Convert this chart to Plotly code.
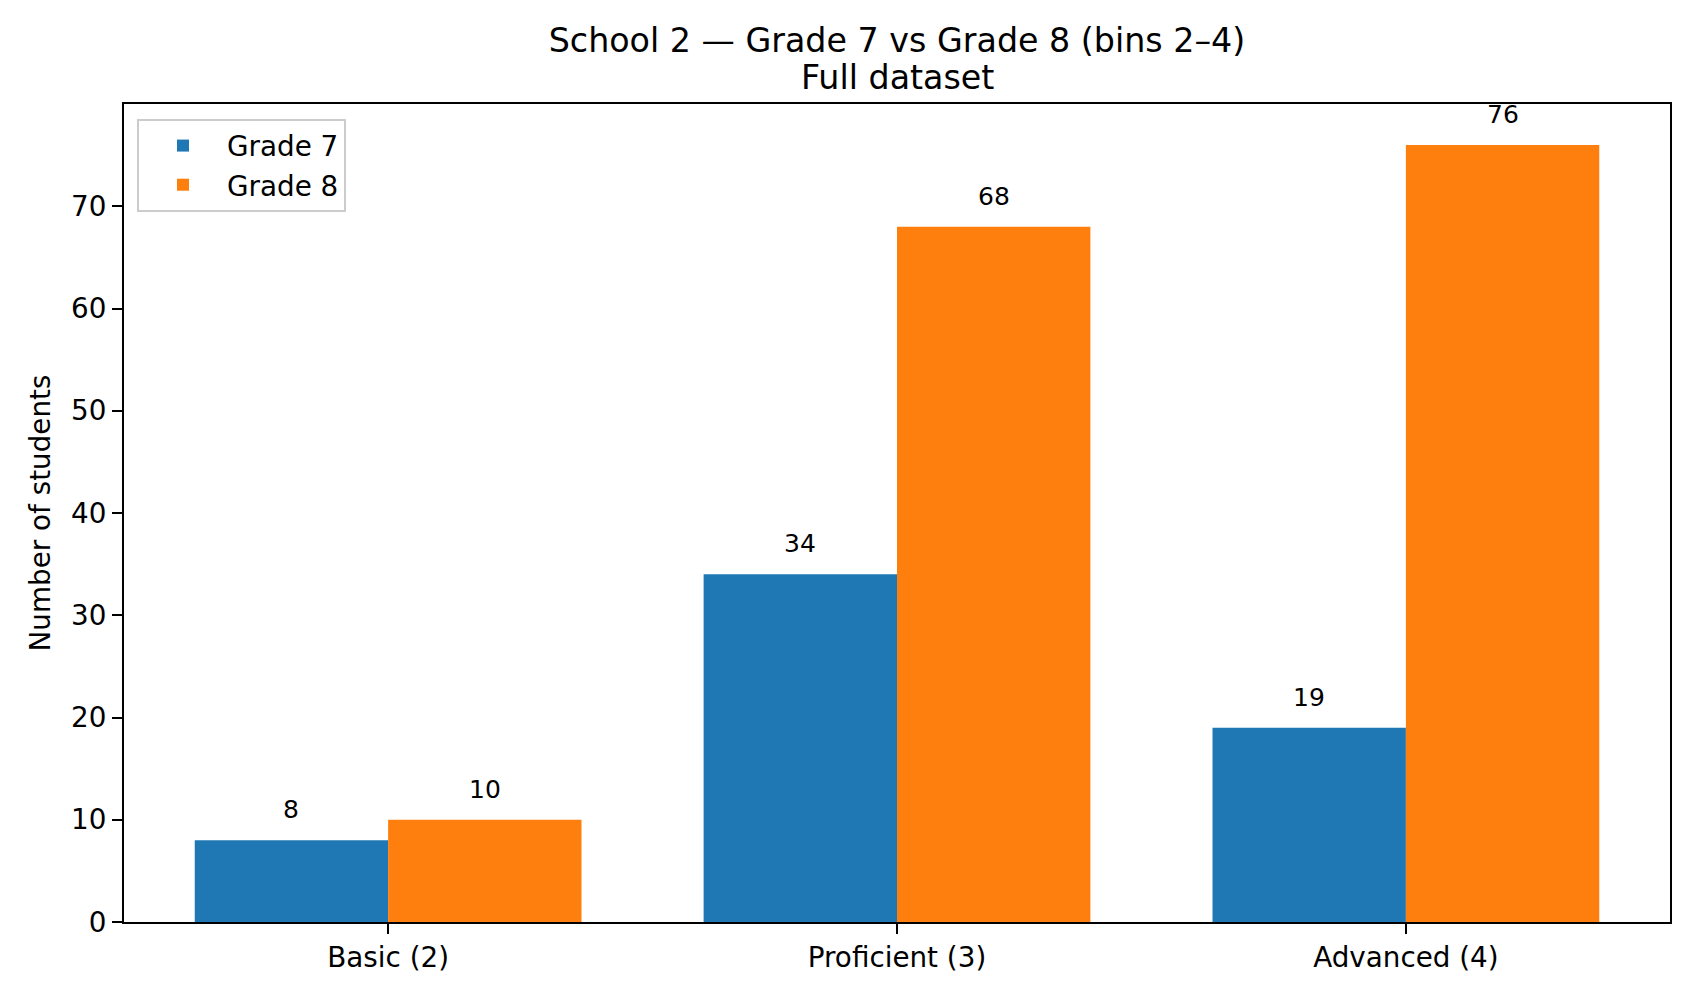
import plotly.graph_objects as go

categories = ["Basic (2)", "Proficient (3)", "Advanced (4)"]
grade7 = [8, 34, 19]
grade8 = [10, 68, 76]
series_names = ["Grade 7", "Grade 8"]
colors = ["#1f77b4", "#ff7f0e"]
title_line1 = "School 2 — Grade 7 vs Grade 8 (bins 2–4)"
title_line2 = "Full dataset"
y_label = "Number of students"
y_ticks = [0, 10, 20, 30, 40, 50, 60, 70]

FONT = "DejaVu Sans"
W, H = 1700, 1000
ML, MR, MT, MB = 124, 30, 104, 78
bar_w = 0.38

fig = go.Figure()
for name, vals, col in zip(series_names, [grade7, grade8], colors):
    fig.add_trace(go.Bar(x=categories, y=vals, name=name, marker_color=col,
                         marker_line_width=0))

# value labels above bars
for j, vals in enumerate([grade7, grade8]):
    off = (j - 0.5) * bar_w
    for i, v in enumerate(vals):
        fig.add_annotation(x=i + off, y=v, xref="x", yref="y", text=str(v),
                           showarrow=False, yanchor="bottom", yshift=14,
                           font=dict(family=FONT, size=25, color="black"))

fig.add_annotation(text=title_line2, xref="paper", yref="paper", x=0.5,
                   y=1 + (MT - 77) / (H - MT - MB), yanchor="middle",
                   showarrow=False, font=dict(family=FONT, size=33.3, color="black"))

axis_common = dict(showline=True, linecolor="black", linewidth=2.2, mirror=True,
                   ticks="outside", ticklen=10, tickwidth=2.2, tickcolor="black",
                   showgrid=False, zeroline=False,
                   tickfont=dict(family=FONT, size=27.8, color="black"))

fig.update_layout(
    width=W, height=H,
    margin=dict(l=ML, r=MR, t=MT, b=MB),
    paper_bgcolor="white", plot_bgcolor="white",
    barmode="group", bargap=1 - 2 * bar_w, bargroupgap=0,
    title=dict(text=title_line1, x=(ML + (W - ML - MR) / 2) / W, xanchor="center",
               y=1 - 40 / H, yanchor="middle", yref="container",
               font=dict(family=FONT, size=33.3, color="black")),
    xaxis=dict(range=[-0.519, 2.519], **axis_common),
    yaxis=dict(range=[0, 80], tickvals=y_ticks, **axis_common,
               title=dict(text=y_label, standoff=12,
                          font=dict(family=FONT, size=27.8, color="black"))),
    legend=dict(x=(137 - ML) / (W - ML - MR), y=1 - (119 - MT) / (H - MT - MB),
                xanchor="left", yanchor="top", itemwidth=78,
                bordercolor="#cccccc", borderwidth=2, bgcolor="white",
                font=dict(family=FONT, size=27.8, color="black")),
    showlegend=True,
)

fig.write_html("out.html")
